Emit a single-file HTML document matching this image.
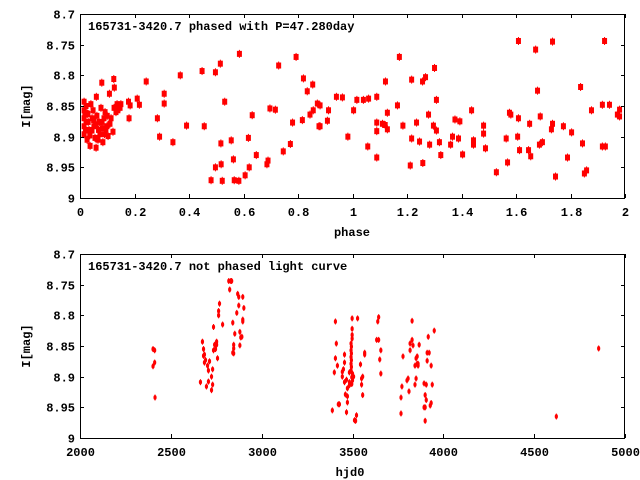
<!DOCTYPE html>
<html><head><meta charset="utf-8">
<style>
html,body{margin:0;padding:0;background:#fff;}
svg{display:block;}
text{font-family:"Liberation Mono","DejaVu Sans Mono",monospace;font-weight:bold;font-size:12px;fill:#000;}
</style></head>
<body>
<svg id="chart" width="640" height="480" viewBox="0 0 640 480"></svg>
<script>
// ---- Top panel data (phase vs magnitude)
const phasedPhase = [0.585,0.793,0.729,0.515,0.448,0.497,0.368,0.243,0.080,0.124,0.126,0.820,0.854,0.834,0.060,0.108,0.309,0.309,0.178,0.184,0.210,0.218,0.531,0.871,0.697,0.717,0.632,0.856,0.844,0.180,0.284,0.391,0.456,0.780,0.816,0.877,0.292,0.341,0.517,0.555,0.618,0.772,0.746,0.647,0.563,0.690,0.686,0.518,0.497,0.621,0.606,0.481,0.522,0.566,0.583,
0.015,0.015,0.015,0.015,0.015,0.022,0.022,0.026,0.029,0.033,0.037,0.040,0.044,0.048,0.051,0.055,0.059,0.062,0.070,0.073,0.077,0.081,0.084,0.088,0.092,0.095,0.099,0.103,0.110,0.114,0.121,0.125,0.132,0.136,0.139,0.147,0.150,0.081,0.066,
0.018,0.020,0.026,0.030,0.036,0.044,0.050,0.058,0.068,0.090,0.100,
0.881,0.881,0.912,0.908,0.941,0.963,0.983,1.004,1.016,1.040,1.059,1.056,1.089,1.089,1.089,1.089,1.110,1.120,1.128,1.121,1.128,1.165,1.172,1.185,1.212,1.217,1.217,1.235,1.246,1.257,1.268,1.258,1.279,1.301,1.308,1.297,1.308,1.283,1.319,1.324,1.360,1.367,1.376,1.394,1.389,1.404,1.437,1.444,1.444,1.481,1.481,1.488,
1.528,1.564,1.569,1.576,1.581,1.609,1.609,1.606,1.613,1.646,1.650,1.654,1.672,1.679,1.689,1.686,1.697,1.730,1.734,1.734,1.745,1.774,1.789,1.804,1.837,1.844,1.851,1.859,1.877,1.917,1.925,1.917,1.928,1.943,1.972,1.980,1.980];
const phasedMag = [8.765,8.770,8.784,8.781,8.793,8.795,8.800,8.810,8.812,8.806,8.820,8.805,8.815,8.826,8.835,8.830,8.830,8.846,8.843,8.849,8.838,8.848,8.843,8.846,8.854,8.856,8.865,8.857,8.864,8.870,8.870,8.882,8.883,8.877,8.873,8.883,8.900,8.909,8.911,8.906,8.902,8.912,8.924,8.930,8.937,8.939,8.945,8.945,8.950,8.950,8.963,8.971,8.972,8.971,8.972,
8.843,8.857,8.870,8.883,8.896,8.850,8.876,8.905,8.863,8.889,8.915,8.847,8.870,8.857,8.883,8.902,8.918,8.866,8.876,8.896,8.853,8.886,8.909,8.870,8.860,8.889,8.883,8.899,8.879,8.870,8.892,8.853,8.860,8.847,8.857,8.853,8.847,8.876,8.905,
8.864,8.890,8.862,8.876,8.898,8.890,8.873,8.880,8.889,8.896,8.866,
8.849,8.883,8.857,8.874,8.835,8.836,8.900,8.857,8.840,8.840,8.838,8.916,8.835,8.877,8.891,8.934,8.879,8.881,8.888,8.810,8.861,8.849,8.770,8.882,8.947,8.807,8.903,8.877,8.908,8.810,8.803,8.943,8.864,8.788,8.840,8.882,8.890,8.913,8.909,8.930,8.913,8.900,8.872,8.875,8.903,8.929,8.857,8.906,8.913,8.895,8.882,8.919,
8.958,8.903,8.942,8.861,8.864,8.744,8.870,8.900,8.922,8.922,8.879,8.932,8.758,8.825,8.867,8.913,8.909,8.888,8.879,8.745,8.965,8.883,8.934,8.893,8.819,8.911,8.960,8.955,8.857,8.848,8.744,8.916,8.916,8.848,8.864,8.856,8.867];
const phaseTicks = [0,0.2,0.4,0.6,0.8,1,1.2,1.4,1.6,1.8,2];
const phaseTickLabels = ["0","0.2","0.4","0.6","0.8","1","1.2","1.4","1.6","1.8","2"];

// ---- Bottom panel data (hjd0 vs magnitude)
const hjd = [2402,2411,2402,2411,2413,2663,2674,2680,2680,2685,2685,2691,2696,2702,2707,2707,2713,2724,2724,2730,2730,2735,2735,2741,2746,2752,2752,2757,2763,2763,2768,2785,2819,2830,2835,2824,2841,2846,2846,2846,2841,2852,2863,2868,2874,2874,2880,2880,2885,2891,2896,2896,2896,2902,
3389,3400,3406,3411,3406,3417,3422,3428,3444,3444,3450,3456,3456,3456,3461,3467,3467,3472,3472,3472,3483,3483,3483,
3492,3492,3492,3492,3492,3496,3496,3498,3498,3498,3498,3500,3500,3494,3494,3494,3494,
3506,3511,3517,3522,3528,3544,3550,3556,3550,3556,3567,3567,3633,3644,3639,3644,3650,3656,3656,3767,3767,3772,3778,3800,3806,3811,3817,3817,3828,3828,3833,3844,3844,3850,3850,3856,3856,3861,3861,3867,3894,3894,3900,3900,3900,3906,3906,3911,3911,3917,3922,3928,3933,3933,3939,3950,4622,4855];
const hjdMag = [8.855,8.857,8.883,8.877,8.934,8.909,8.843,8.855,8.866,8.864,8.877,8.873,8.916,8.882,8.890,8.908,8.875,8.900,8.922,8.888,8.913,8.819,8.857,8.848,8.855,8.843,8.848,8.870,8.793,8.800,8.781,8.815,8.744,8.744,8.744,8.758,8.812,8.848,8.854,8.862,8.861,8.830,8.796,8.765,8.770,8.784,8.827,8.849,8.836,8.835,8.770,8.807,8.810,8.788,
8.955,8.893,8.810,8.846,8.870,8.882,8.945,8.945,8.900,8.892,8.888,8.864,8.877,8.909,8.929,8.905,8.958,8.932,8.942,8.919,8.893,8.909,8.914,
8.846,8.857,8.868,8.879,8.890,8.901,8.912,8.822,8.832,8.838,8.805,8.895,8.906,8.851,8.862,8.873,8.884,
8.900,8.971,8.972,8.963,8.805,8.880,8.903,8.900,8.913,8.930,8.861,8.864,8.840,8.840,8.810,8.803,8.872,8.857,8.895,8.934,8.960,8.916,8.867,8.906,8.903,8.924,8.857,8.846,8.809,8.840,8.849,8.882,8.913,8.903,8.870,8.867,8.879,8.882,8.879,8.848,8.911,8.950,8.950,8.930,8.972,8.913,8.938,8.874,8.861,8.835,8.861,8.947,8.943,8.882,8.913,8.825,8.965,8.854];
const hjdTicks = [2000,2500,3000,3500,4000,4500,5000];
const hjdTickLabels = ["2000","2500","3000","3500","4000","4500","5000"];
const magTicks = [8.7,8.75,8.8,8.85,8.9,8.95,9];
const magTickLabels = ["8.7","8.75","8.8","8.85","8.9","8.95","9"];

const NS = "http://www.w3.org/2000/svg";
const svg = document.getElementById('chart');
function mk(tag, attrs, parent){
  const e = document.createElementNS(NS, tag);
  for (const k in attrs) e.setAttribute(k, attrs[k]);
  (parent||svg).appendChild(e);
  return e;
}

function panel(cfg){
  const L=80, R=625, T=cfg.top, B=cfg.top+184;
  const g = mk('g', {});
  
  
  const xs = v => L + (v - cfg.xmin)/(cfg.xmax - cfg.xmin)*(R-L);
  const ys = v => T + (v - 8.7)/0.3*(B-T);
  const pts = mk('g', {fill:'#ff0000', stroke:'#ff0000'}, g);
  
  
  for (let i=0;i<cfg.x.length;i++){
    const px = xs(cfg.x[i]), py = ys(cfg.y[i]);
    const m = mk('g', {}, pts);
    
    
    mk('line', {x1:px, x2:px, y1:py-cfg.eh, y2:py+cfg.eh, 'stroke-width':1}, m);
    if (cfg.big) mk('rect', {x:px-2.5, y:py-3, width:5, height:6, stroke:'none'}, m);
    else mk('ellipse', {cx:px, cy:py, rx:1.6, ry:2.4, stroke:'none'}, m);
  }
  const fr = mk('rect', {x:L+0.5, y:T+0.5, width:R-L-1, height:B-T, fill:'none', stroke:'#000', 'stroke-width':1}, g);
  
  
  for (let i=0;i<magTicks.length;i++){
    const y = Math.round(ys(magTicks[i]))+0.5;
    mk('line', {x1:L, x2:L+4, y1:y, y2:y, stroke:'#000'}, g);
    mk('line', {x1:R-4, x2:R, y1:y, y2:y, stroke:'#000'}, g);
    const t = mk('text', {x:L-5, y:y+4, 'text-anchor':'end'}, g);
    t.textContent = magTickLabels[i];
    
    
  }
  for (let i=0;i<cfg.ticks.length;i++){
    const x = Math.round(xs(cfg.ticks[i]))+0.5;
    mk('line', {x1:x, x2:x, y1:B, y2:B-4, stroke:'#000'}, g);
    mk('line', {x1:x, x2:x, y1:T, y2:T+4, stroke:'#000'}, g);
    const t = mk('text', {x:x, y:B+18, 'text-anchor':'middle'}, g);
    t.textContent = cfg.tickLabels[i];
    
    
  }
  const yl = mk('text', {x:0, y:0, 'text-anchor':'middle', transform:`translate(30,${(T+B)/2}) rotate(-90)`}, g);
  yl.textContent = 'I[mag]';
  
  
  const xl = mk('text', {x:cfg.xlx, y:B+38, 'text-anchor':'middle'}, g);
  xl.textContent = cfg.xlabel;
  
  
  const tt = mk('text', {x:88, y:T+16}, g);
  tt.textContent = cfg.title;
  
  
}

panel({name:'phased-panel', top:14, xmin:0, xmax:2, x:phasedPhase, y:phasedMag, ticks:phaseTicks, tickLabels:phaseTickLabels,
  xlabel:'phase', xlx:352, title:'165731-3420.7 phased with P=47.280day', big:true, eh:4});
panel({name:'unphased-panel', top:254, xmin:2000, xmax:5000, x:hjd, y:hjdMag, ticks:hjdTicks, tickLabels:hjdTickLabels,
  xlabel:'hjd0', xlx:350, title:'165731-3420.7 not phased light curve', big:false, eh:3});
</script>
</body></html>
